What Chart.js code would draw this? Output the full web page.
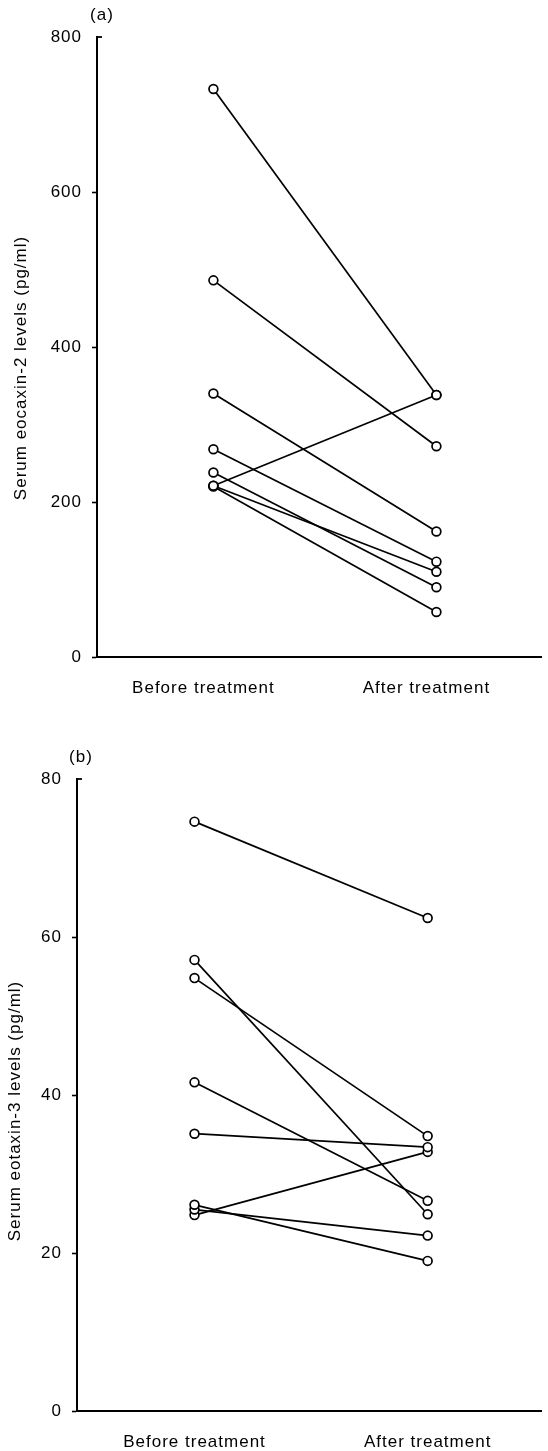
<!DOCTYPE html>
<html><head><meta charset="utf-8">
<script src="https://cdn.jsdelivr.net/npm/chart.js@4"></script>
<style>
html,body{margin:0;padding:0;background:#fff;}
body{width:548px;height:1451px;position:relative;overflow:hidden;}
canvas{position:absolute;left:0;}
#c1{top:0;} #c2{top:710px;}
</style></head><body>
<canvas id="c1" width="548" height="710"></canvas>
<canvas id="c2" width="548" height="741"></canvas>
<script>
// ---- data ----
const categories = ['Before treatment', 'After treatment'];
const categoryPositions = [1, 2];

const eocaxin2Before = [733, 486, 340, 268, 238, 221, 221, 220];
const eocaxin2After  = [338, 272, 162, 123, 90, 110, 338, 58];
const eocaxin2Ticks  = [0, 200, 400, 600, 800];

const eotaxin3Before = [74.6, 57.1, 54.8, 41.6, 35.1, 26.1, 25.5, 24.8];
const eotaxin3After  = [62.4, 24.9, 34.8, 26.6, 33.4, 19.0, 22.2, 32.8];
const eotaxin3Ticks  = [0, 20, 40, 60, 80];

const panelA = '(a)';
const panelB = '(b)';
const titleA = 'Serum eocaxin-2 levels (pg/ml)';
const titleB = 'Serum eotaxin-3 levels (pg/ml)';

// ---- styling / helpers ----
const FONT = '"Liberation Sans", Arial, Helvetica, sans-serif';
const FSIZE = 17;

const spacingPlugin = {
  id: 'spacing',
  beforeUpdate(chart) { chart.ctx.letterSpacing = '1px'; },
  beforeDraw(chart) { chart.ctx.letterSpacing = '1px'; }
};

const annotPlugin = {
  id: 'annot',
  afterDraw(chart, args, opts) {
    const ctx = chart.ctx, a = chart.chartArea, ys = chart.scales.y;
    ctx.save();
    ctx.letterSpacing = '1px';
    ctx.fillStyle = '#000';
    ctx.font = FSIZE + 'px ' + FONT;
    ctx.textAlign = 'center';
    ctx.textBaseline = 'middle';
    ctx.fillText(opts.panel, opts.panelX, opts.panelY);
    ctx.translate(opts.titleX, (a.top + a.bottom) / 2 + opts.titleDy);
    ctx.rotate(-Math.PI / 2);
    ctx.fillText(opts.title, 0, 0);
    ctx.restore();
    // small stub pointing right at the top of the y axis
    ctx.save();
    ctx.strokeStyle = '#000';
    ctx.lineWidth = 1.8;
    const yt = ys.getPixelForValue(ys.max);
    ctx.beginPath();
    ctx.moveTo(a.left, yt);
    ctx.lineTo(a.left + 5, yt);
    ctx.stroke();
    ctx.restore();
  }
};

function makeChart(id, before, after, yTicks, cfg) {
  const yMax = yTicks[yTicks.length - 1];
  const datasets = before.map((b, i) => ({
    data: [{ x: categoryPositions[0], y: b }, { x: categoryPositions[1], y: after[i] }],
    borderColor: '#000',
    borderWidth: 1.7,
    pointRadius: 4.4,
    pointBorderWidth: 1.7,
    pointBackgroundColor: '#fff',
    pointBorderColor: '#000',
    fill: false,
    tension: 0,
    clip: false
  }));
  return new Chart(document.getElementById(id), {
    type: 'line',
    data: { datasets },
    options: {
      responsive: false,
      animation: false,
      devicePixelRatio: 1,
      layout: { padding: { top: cfg.top, left: 0, right: 0, bottom: 0 } },
      plugins: {
        legend: { display: false },
        tooltip: { enabled: false },
        annot: {
          panel: cfg.panel, panelX: cfg.panelX, panelY: cfg.panelY,
          title: cfg.title, titleX: cfg.titleX, titleDy: cfg.titleDy
        }
      },
      scales: {
        x: {
          type: 'linear',
          min: cfg.xmin, max: cfg.xmax,
          afterBuildTicks(s) { s.ticks = categoryPositions.map(v => ({ value: v })); },
          afterFit(s) { s.height = cfg.xh; s.paddingLeft = 0; s.paddingRight = 0; },
          ticks: {
            callback: (v) => categories[categoryPositions.indexOf(v)],
            padding: 13,
            labelOffset: cfg.labelOffset,
            color: '#000',
            font: { family: FONT, size: FSIZE },
            maxRotation: 0,
            autoSkip: false
          },
          grid: { display: false },
          border: { display: true, color: '#000', width: 2 }
        },
        y: {
          min: 0, max: yMax,
          afterBuildTicks(s) { s.ticks = yTicks.map(v => ({ value: v })); },
          afterFit(s) { s.width = cfg.left; s.paddingTop = 0; s.paddingBottom = 0; },
          ticks: { padding: 10, color: '#000', font: { family: FONT, size: FSIZE } },
          grid: {
            drawOnChartArea: false,
            drawTicks: true,
            tickLength: 5,
            tickWidth: 1.6,
            tickColor: (c) => (c.tick && c.tick.value === yMax) ? 'rgba(0,0,0,0)' : '#000'
          },
          border: { display: true, color: '#000', width: 2 }
        }
      }
    },
    plugins: [spacingPlugin, annotPlugin]
  });
}

makeChart('c1', eocaxin2Before, eocaxin2After, eocaxin2Ticks, {
  top: 37, left: 97, xh: 53, xmin: 0.478, xmax: 2.473, labelOffset: -10,
  panel: panelA, panelX: 102, panelY: 15,
  title: titleA, titleX: 21, titleDy: 21
});

makeChart('c2', eotaxin3Before, eotaxin3After, eotaxin3Ticks, {
  top: 69, left: 77, xh: 40, xmin: 0.496, xmax: 2.49, labelOffset: 0,
  panel: panelB, panelX: 81, panelY: 47,
  title: titleB, titleX: 15, titleDy: 16
});
</script>
</body></html>
